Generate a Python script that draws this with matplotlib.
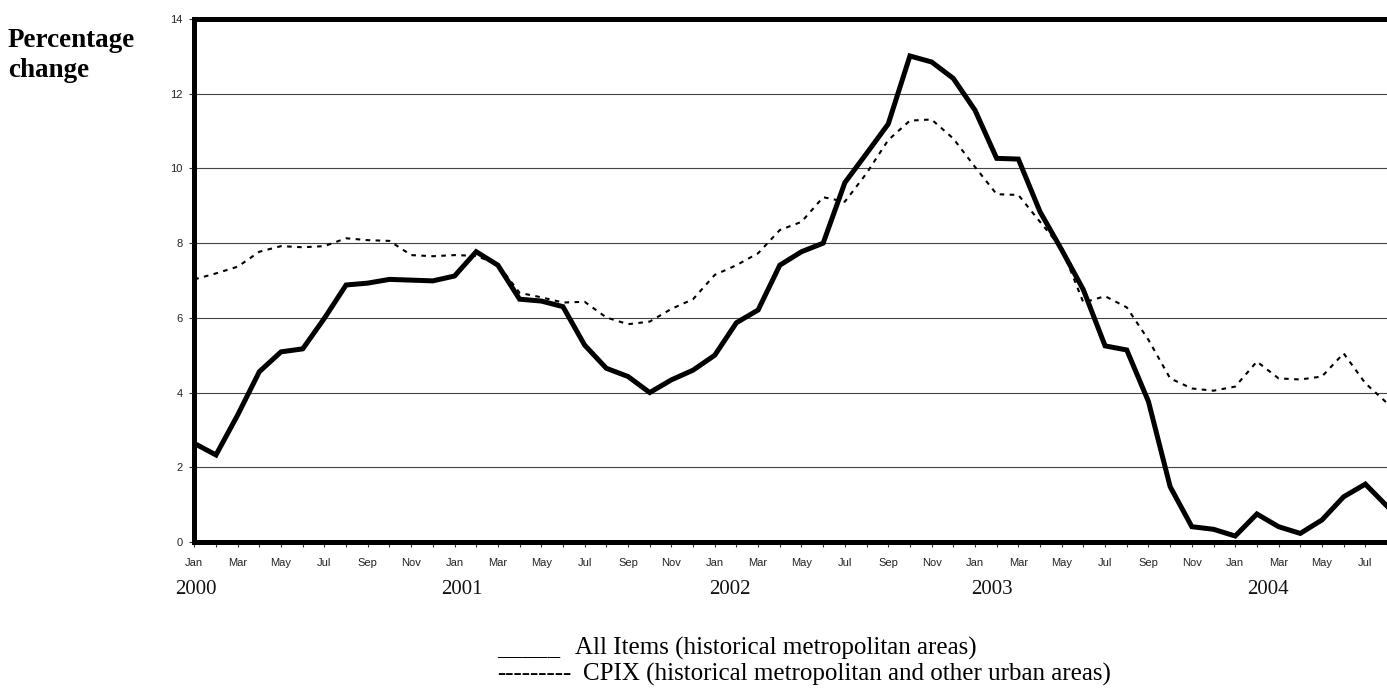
#!/usr/bin/env python3
"""CPI percentage change chart: All Items vs CPIX, Jan 2000 - Aug 2004."""
import matplotlib
matplotlib.use("Agg")
import matplotlib.pyplot as plt
import numpy as np

# monthly percentage change, Jan 2000 .. Aug 2004
all_items = [2.64, 2.33, 3.40, 4.56, 5.09, 5.17, 5.99, 6.88, 6.93, 7.03, 7.01, 6.99,
             7.12, 7.77, 7.41, 6.50, 6.45, 6.30, 5.27, 4.65, 4.43, 4.00, 4.34, 4.60,
             5.00, 5.87, 6.21, 7.41, 7.77, 8.00, 9.62, 10.40, 11.19, 13.01, 12.85, 12.41,
             11.56, 10.27, 10.25, 8.84, 7.82, 6.75, 5.25, 5.14, 3.76, 1.48, 0.41, 0.34,
             0.16, 0.75, 0.41, 0.23, 0.59, 1.21, 1.55, 0.96]
cpix = [7.03, 7.19, 7.37, 7.77, 7.92, 7.89, 7.92, 8.13, 8.08, 8.06, 7.68, 7.65,
        7.68, 7.66, 7.43, 6.67, 6.55, 6.41, 6.43, 6.01, 5.83, 5.90, 6.24, 6.50,
        7.15, 7.41, 7.73, 8.35, 8.57, 9.23, 9.11, 9.87, 10.76, 11.28, 11.31, 10.80,
        10.04, 9.31, 9.29, 8.57, 7.86, 6.41, 6.58, 6.28, 5.41, 4.38, 4.11, 4.05,
        4.16, 4.83, 4.38, 4.35, 4.43, 5.05, 4.25, 3.72]
month_names = ["Jan", "Feb", "Mar", "Apr", "May", "Jun",
               "Jul", "Aug", "Sep", "Oct", "Nov", "Dec"]
years = ["2000", "2001", "2002", "2003", "2004"]
year_pos = [0.08, 12.36, 24.7, 36.76, 49.5]   # where the year captions sit (months)
y_ticks = [0, 2, 4, 6, 8, 10, 12, 14]
legend_labels = ["All Items (historical metropolitan areas)",
                 "CPIX (historical metropolitan and other urban areas)"]
legend_marks = ["_____", "---------"]

SANS = "Liberation Sans"
SERIF = "Liberation Serif"
W, H = 1387, 693

fig = plt.figure(figsize=(W / 100, H / 100), dpi=100)
ax = fig.add_axes([194.3 / W, 151 / H, 1 - 194.3 / W, 523 / H])

x = np.arange(len(all_items))
ax.plot(x, all_items, color="black", lw=3.6, solid_joinstyle="miter", zorder=3)
ax.plot(x, cpix, color="black", lw=1.5, linestyle=(0, (2.2, 2.6)), zorder=3)

ax.set_xlim(0, (W - 194.3) / 21.84)
ax.set_ylim(0, 14)
ax.set_yticks(y_ticks)
ax.set_yticklabels([str(v) for v in y_ticks], fontsize=8, family=SANS, color="#222222")
ax.set_xticks(x)
ax.set_xticklabels([month_names[i % 12] if i % 2 == 0 else "" for i in x],
                   fontsize=8, family=SANS, color="#222222")
ax.tick_params(axis="both", direction="out", length=3.5, width=0.8, color="#333333")
ax.tick_params(axis="x", pad=8)
ax.tick_params(axis="y", pad=5)

ax.grid(axis="y", color="#444444", linewidth=0.8)
ax.set_axisbelow(True)
for s in ["left", "top", "bottom"]:
    ax.spines[s].set_linewidth(3.6)
    ax.spines[s].set_color("black")
    ax.spines[s].set_zorder(4)
ax.spines["right"].set_visible(False)

# year captions below the month labels
for yr, xp in zip(years, year_pos):
    ax.text(xp, -(590 - 542) / 523, yr, transform=ax.get_xaxis_transform(),
            ha="center", va="center", fontsize=15, family=SERIF, color="#111111")

fig.text(8 / W, 1 - 46.7 / H, "Percentage", ha="left", va="baseline",
         fontsize=19.5, fontweight="bold", family=SERIF)
fig.text(8 / W, 1 - 76.7 / H, "change", ha="left", va="baseline",
         fontsize=19.5, fontweight="bold", family=SERIF)

# hand-drawn legend made of characters, as in the source
for mark, lab, yc, xl in zip(legend_marks, legend_labels, [648, 674], [575, 583]):
    fig.text(497 / W, 1 - yc / H, mark, ha="left", va="center", fontsize=18, family=SERIF)
    fig.text(xl / W, 1 - yc / H, lab, ha="left", va="center", fontsize=18, family=SERIF)

fig.savefig("out.png", dpi=100, facecolor="white")
